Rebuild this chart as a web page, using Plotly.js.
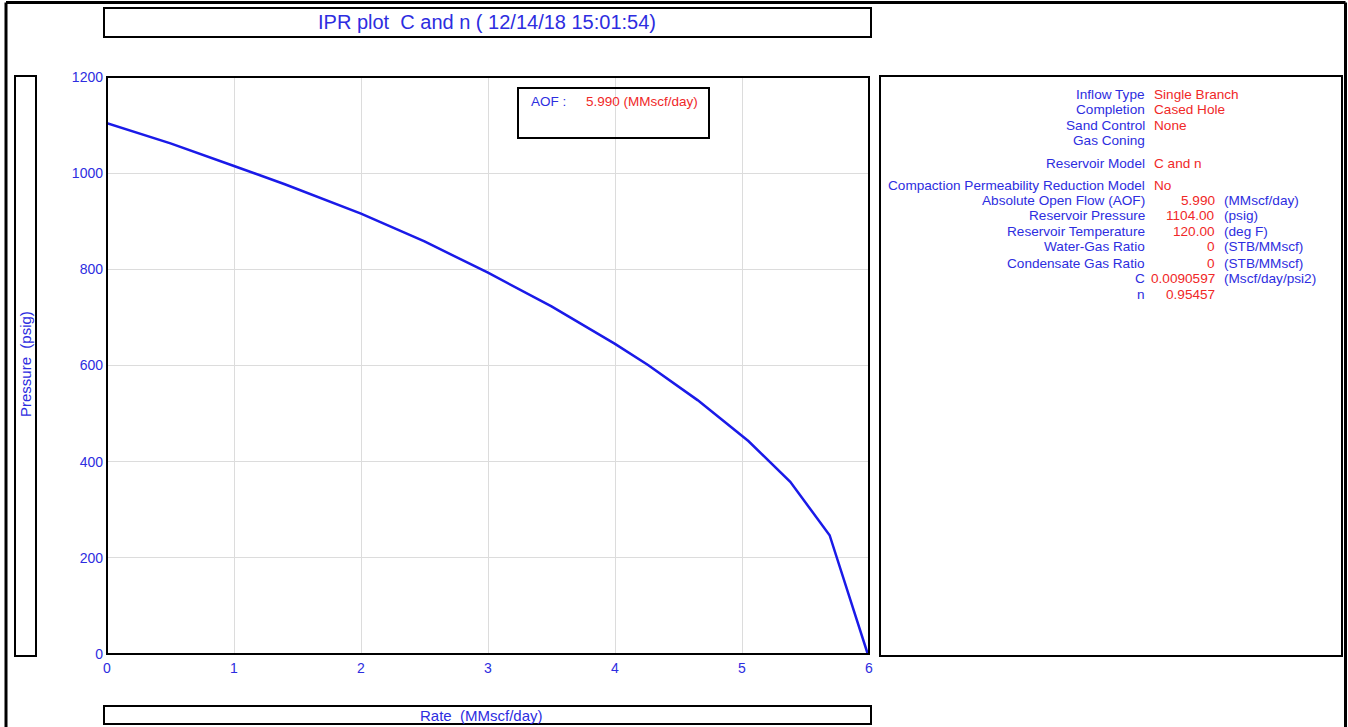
<!DOCTYPE html>
<html>
<head>
<meta charset="utf-8">
<script src="https://cdn.plot.ly/plotly-3.0.1.min.js"></script>
<style>html,body{margin:0;padding:0;background:#fff;}#chart{width:1348px;height:727px;}</style>
</head>
<body>
<div id="chart"></div>
<script>
// ---- data ----
const rate = [0, 0.5, 1.0, 1.4, 2.0, 2.5, 3.0, 3.5, 4.0, 4.26, 4.65, 5.05, 5.38, 5.69, 5.99];
const pressure = [1104, 1062, 1015, 977, 916, 858, 793, 723, 645, 601, 528, 443, 358, 247, 0];
const xTicks = [0, 1, 2, 3, 4, 5, 6];
const yTicks = [0, 200, 400, 600, 800, 1000, 1200];
const chartTitle = "IPR plot  C and n ( 12/14/18 15:01:54)";
const xTitle = "Rate  (MMscf/day)";
const yTitle = "Pressure  (psig)";
const aofLabel = "AOF :";
const aofValue = "5.990 (MMscf/day)";
// right panel: text-valued rows
const infoLabels = ["Inflow Type", "Completion", "Sand Control", "Gas Coning", "Reservoir Model", "Compaction Permeability Reduction Model"];
const infoValues = ["Single Branch", "Cased Hole", "None", "", "C and n", "No"];
// right panel: numeric rows
const numLabels = ["Absolute Open Flow (AOF)", "Reservoir Pressure", "Reservoir Temperature", "Water-Gas Ratio", "Condensate Gas Ratio", "C", "n"];
const numValues = ["5.990", "1104.00", "120.00", "0", "0", "0.0090597", "0.95457"];
const numUnits = ["(MMscf/day)", "(psig)", "(deg F)", "(STB/MMscf)", "(STB/MMscf)", "(Mscf/day/psi2)", ""];

// ---- layout helpers (pixel -> paper) ----
const L = 107, R = 869, T = 77, B = 654;
const W = R - L, H = B - T;
const X = px => (px - L) / W;
const Y = py => (B - py) / H;
const BLUE = "#2d2de0";
const RED = "#f02828";
const FONT = "Liberation Sans, Arial, sans-serif";

function box(x0, y0, x1, y1, w) {
  return {type: "rect", xref: "paper", yref: "paper", x0: X(x0), x1: X(x1), y0: Y(y0), y1: Y(y1),
          line: {color: "#000", width: w || 2}, fillcolor: "rgba(0,0,0,0)", layer: "above"};
}
function line(x0, y0, x1, y1, w) {
  return {type: "line", xref: "paper", yref: "paper", x0: X(x0), x1: X(x1), y0: Y(y0), y1: Y(y1),
          line: {color: "#000", width: w}};
}
function txt(text, px, py, color, anchor, size, extra) {
  return Object.assign({text: text, xref: "paper", yref: "paper", x: X(px), y: Y(py), showarrow: false,
          xanchor: anchor || "center", yanchor: "middle", font: {family: FONT, size: size || 13, color: color}}, extra || {});
}

const shapes = [
  line(6, 2.5, 1345.5, 2.5, 3), line(6, 2.5, 6, 730, 3), line(1345.5, 2.5, 1345.5, 730, 3),
  box(104, 8, 871, 37, 2),
  box(107, 77, 869, 654, 2),
  box(880, 76, 1342, 656, 2),
  box(15, 76, 36, 656, 2),
  box(104, 706, 871, 724, 2),
  box(518, 88, 709, 138, 2)
];

const PS = 13.6;
const annotations = [
  txt(chartTitle, 487, 22, BLUE, "center", 20),
  txt(yTitle, 25, 364, BLUE, "center", 15, {textangle: -90}),
  txt(xTitle, 481, 715, BLUE, "center", 15),
  txt(aofLabel, 529, 102, BLUE, "left", 13.5),
  txt(aofValue, 584, 102, RED, "left", 13.5)
];
const infoY = [95, 110, 126, 141, 163, 186];
infoLabels.forEach((t, i) => {
  annotations.push(txt(t, 1147, infoY[i], BLUE, "right", PS));
  if (infoValues[i]) annotations.push(txt(infoValues[i], 1152, infoY[i], RED, "left", PS));
});
const numY = [201, 216, 232, 247, 263, 278, 294];
numLabels.forEach((t, i) => {
  annotations.push(txt(t, 1147, numY[i], BLUE, "right", PS));
  annotations.push(txt(numValues[i], 1217, numY[i], RED, "right", PS));
  if (numUnits[i]) annotations.push(txt(numUnits[i], 1222, numY[i], BLUE, "left", PS));
});

const trace = {
  x: rate, y: pressure, type: "scatter", mode: "lines",
  line: {color: "#1a1ae8", width: 2.5}, hoverinfo: "x+y", showlegend: false
};

const layout = {
  width: 1348, height: 727,
  margin: {l: L, r: 1348 - R, t: T, b: 727 - B, pad: 0},
  paper_bgcolor: "#fff", plot_bgcolor: "#fff",
  font: {family: FONT, color: BLUE, size: 13},
  showlegend: false,
  xaxis: {range: [0, 6], tickvals: xTicks, ticktext: xTicks.map(String), showgrid: true, gridcolor: "#dcdcdc",
          gridwidth: 1, zeroline: false, showline: false, ticks: "", ticklabelstandoff: 4,
          tickfont: {family: FONT, size: 14, color: BLUE}},
  yaxis: {range: [0, 1200], tickvals: yTicks, ticktext: yTicks.map(String), showgrid: true, gridcolor: "#dcdcdc",
          gridwidth: 1, zeroline: false, showline: false, ticks: "", ticklabelstandoff: 3,
          tickfont: {family: FONT, size: 14, color: BLUE}},
  shapes: shapes,
  annotations: annotations
};

Plotly.newPlot("chart", [trace], layout, {displayModeBar: false, staticPlot: true});
</script>
</body>
</html>
